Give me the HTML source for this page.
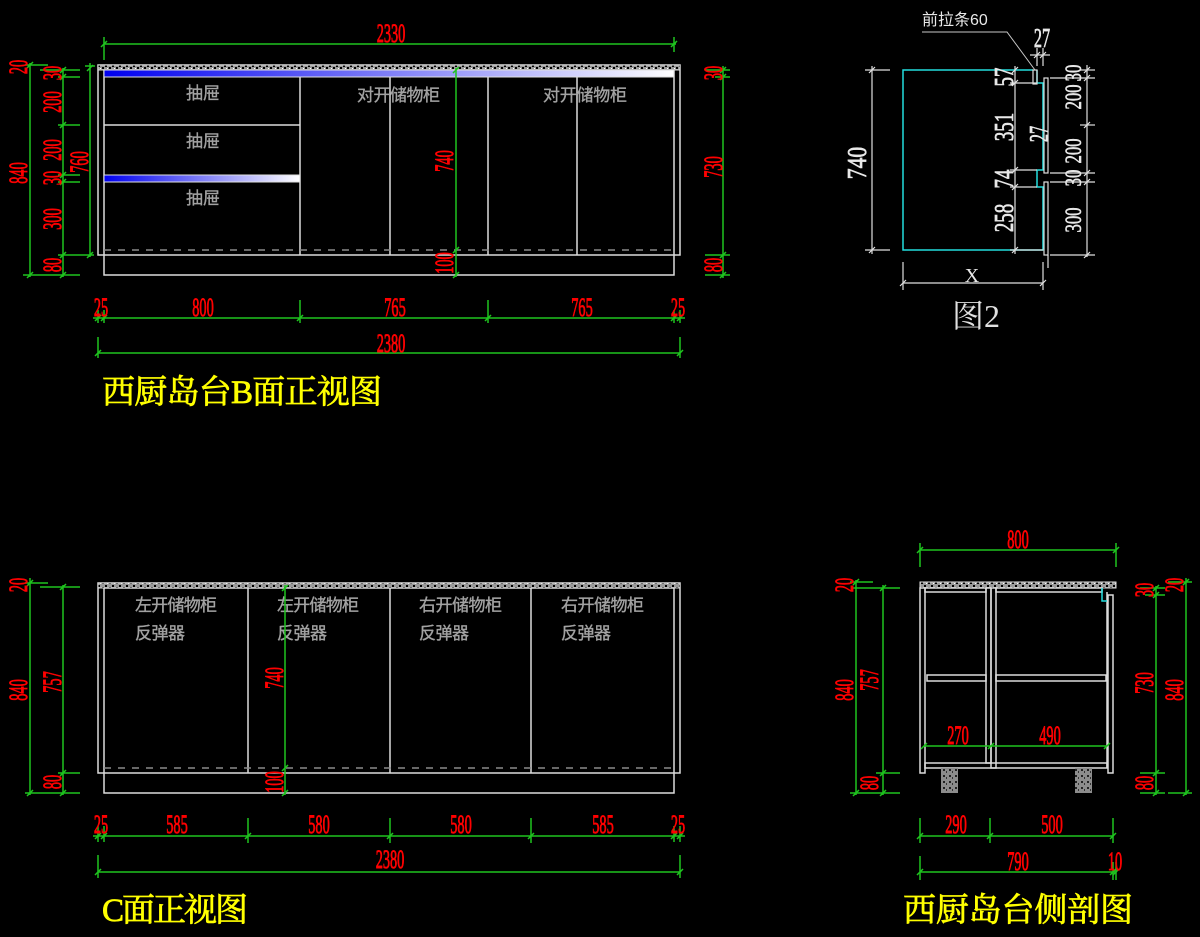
<!DOCTYPE html>
<html><head><meta charset="utf-8">
<style>
html,body{margin:0;padding:0;background:#000;}
svg{display:block}
.d{font-family:"Liberation Serif",serif;font-size:26px;fill:#ff0000;stroke:#ff0000;stroke-width:0.9px;text-anchor:middle}
.wt{font-family:"Liberation Serif",serif;font-size:27px;fill:#e8e8e8;stroke:#e8e8e8;stroke-width:0.7px;text-anchor:middle}
.cj{font-family:"Liberation Sans","Noto Sans CJK SC",sans-serif;font-size:17px;fill:#a2a2a2;stroke:#a2a2a2;stroke-width:0.35px}
.tt{font-family:"Liberation Serif","Noto Serif CJK SC",serif;font-size:33px;fill:#ffff00;stroke:#ffff00;stroke-width:0.7px}
</style></head><body>
<svg width="1200" height="937" viewBox="0 0 1200 937" xmlns="http://www.w3.org/2000/svg">
<defs>
<linearGradient id="bl" x1="0" y1="0" x2="1" y2="0">
<stop offset="0" stop-color="#0000f0"/><stop offset="1" stop-color="#ffffff"/>
</linearGradient>
<pattern id="ht" width="7" height="5" patternUnits="userSpaceOnUse">
<rect width="7" height="5" fill="#9a9a9a"/>
<rect x="0" y="0" width="2" height="2" fill="#000"/>
<rect x="4" y="2" width="2" height="2" fill="#000"/>
<rect x="2" y="3" width="1" height="1" fill="#fff"/>
</pattern>
<pattern id="lg" width="6" height="6" patternUnits="userSpaceOnUse">
<rect width="6" height="6" fill="#8c8c8c"/>
<rect x="1" y="1" width="2" height="2" fill="#222"/>
<rect x="4" y="3" width="1" height="2" fill="#333"/>
</pattern>
</defs>
<rect width="1200" height="937" fill="#000"/>

<!-- ============ B front view: cabinet ============ -->
<g fill="none" stroke="#dcdcdc" stroke-width="1.5">
<rect x="98" y="65" width="582" height="190"/>
<path d="M104 70 V275 H674 V70"/>
<line x1="300" y1="77" x2="300" y2="255"/>
<line x1="104" y1="125" x2="300" y2="125"/>
<line x1="390" y1="77" x2="390" y2="255"/>
<line x1="488" y1="77" x2="488" y2="255"/>
<line x1="577" y1="77" x2="577" y2="255"/>
</g>
<rect x="98" y="65" width="582" height="5" fill="url(#ht)" stroke="#dcdcdc" stroke-width="1"/>
<rect x="104" y="70" width="570" height="7" fill="url(#bl)" stroke="#e0e0e0" stroke-width="1"/>
<rect x="104" y="175" width="196" height="7" fill="url(#bl)" stroke="#e0e0e0" stroke-width="1"/>
<line x1="104" y1="250" x2="674" y2="250" stroke="#8a8a8a" stroke-width="1.5" stroke-dasharray="7 7"/>
<text class="cj" x="203" y="99" text-anchor="middle">抽屉</text>
<text class="cj" x="203" y="147" text-anchor="middle">抽屉</text>
<text class="cj" x="203" y="204" text-anchor="middle">抽屉</text>
<text class="cj" x="357" y="101" textLength="83">对开储物柜</text>
<text class="cj" x="543" y="101" textLength="84">对开储物柜</text>

<!-- B view green dims -->
<g fill="none" stroke="#1fc41f" stroke-width="1.5">
<line x1="104" y1="44" x2="676" y2="44"/>
<line x1="104" y1="37" x2="104" y2="60"/>
<line x1="674" y1="37" x2="674" y2="52"/>
<line x1="30" y1="63" x2="30" y2="277"/>
<line x1="25" y1="65" x2="48" y2="65"/>
<line x1="40" y1="70" x2="80" y2="70"/>
<line x1="58" y1="77" x2="80" y2="77"/>
<line x1="58" y1="125" x2="80" y2="125"/>
<line x1="58" y1="175" x2="80" y2="175"/>
<line x1="58" y1="182" x2="80" y2="182"/>
<line x1="58" y1="255" x2="94" y2="255"/>
<line x1="23" y1="275" x2="80" y2="275"/>
<line x1="63" y1="68" x2="63" y2="277"/>
<line x1="90" y1="63" x2="90" y2="257"/>
<line x1="85" y1="66" x2="95" y2="66"/>
<line x1="456" y1="68" x2="456" y2="277"/>
<line x1="723" y1="66" x2="723" y2="278"/>
<line x1="705" y1="70" x2="730" y2="70"/>
<line x1="715" y1="77" x2="730" y2="77"/>
<line x1="705" y1="255" x2="730" y2="255"/>
<line x1="705" y1="275" x2="730" y2="275"/>
<line x1="93" y1="318" x2="685" y2="318"/>
<line x1="98" y1="310" x2="98" y2="323"/>
<line x1="104" y1="310" x2="104" y2="323"/>
<line x1="300" y1="300" x2="300" y2="323"/>
<line x1="488" y1="300" x2="488" y2="323"/>
<line x1="674" y1="310" x2="674" y2="323"/>
<line x1="680" y1="310" x2="680" y2="323"/>
<line x1="98" y1="353" x2="680" y2="353"/>
<line x1="98" y1="337" x2="98" y2="358"/>
<line x1="680" y1="337" x2="680" y2="358"/>
<path d="M101 47l6-6M671 47l6-6M27 68l6-6M27 278l6-6M60 73l6-6M60 80l6-6M60 128l6-6M60 178l6-6M60 185l6-6M60 258l6-6M60 278l6-6M87 71l6-6M87 258l6-6M453 73l6-6M453 253l6-6M453 278l6-6M720 73l6-6M720 80l6-6M720 258l6-6M720 278l6-6M95 321l6-6M101 321l6-6M297 321l6-6M485 321l6-6M671 321l6-6M677 321l6-6M95 356l6-6M677 356l6-6"/>
</g>

<!-- B view red labels -->
<text class="d" transform="translate(391 42) scale(.55 1)">2330</text>
<text class="d" transform="translate(27 67) rotate(-90) scale(.55 1)">20</text>
<text class="d" transform="translate(27 173) rotate(-90) scale(.55 1)">840</text>
<text class="d" transform="translate(61 73) rotate(-90) scale(.55 1)">30</text>
<text class="d" transform="translate(61 102) rotate(-90) scale(.55 1)">200</text>
<text class="d" transform="translate(61 150) rotate(-90) scale(.55 1)">200</text>
<text class="d" transform="translate(61 178) rotate(-90) scale(.55 1)">30</text>
<text class="d" transform="translate(61 219) rotate(-90) scale(.55 1)">300</text>
<text class="d" transform="translate(61 265) rotate(-90) scale(.55 1)">80</text>
<text class="d" transform="translate(88 162) rotate(-90) scale(.55 1)">760</text>
<text class="d" transform="translate(453 161) rotate(-90) scale(.55 1)">740</text>
<text class="d" transform="translate(453 263) rotate(-90) scale(.55 1)">100</text>
<text class="d" transform="translate(722 73) rotate(-90) scale(.55 1)">30</text>
<text class="d" transform="translate(722 167) rotate(-90) scale(.55 1)">730</text>
<text class="d" transform="translate(722 265) rotate(-90) scale(.55 1)">80</text>
<text class="d" transform="translate(101 316) scale(.55 1)">25</text>
<text class="d" transform="translate(203 316) scale(.55 1)">800</text>
<text class="d" transform="translate(395 316) scale(.55 1)">765</text>
<text class="d" transform="translate(582 316) scale(.55 1)">765</text>
<text class="d" transform="translate(678 316) scale(.55 1)">25</text>
<text class="d" transform="translate(391 352) scale(.55 1)">2380</text>

<text class="tt" x="102" y="403" textLength="280">西厨岛台B面正视图</text>

<!-- ============ Figure 2 ============ -->
<path d="M1033 70 H903 V250 H1043 V187 H1037 V170 H1043 V83 H1037 V70" fill="none" stroke="#22dede" stroke-width="1.5"/>
<g fill="none" stroke="#e0e0e0" stroke-width="1.2">
<rect x="1033" y="70" width="4" height="14"/>
<rect x="1044" y="78" width="4" height="95"/>
<rect x="1044" y="182" width="4" height="73"/>
<polyline points="922,32 1007,32 1035,70" stroke="#c8c8c8" stroke-width="1"/>
<line x1="872" y1="66" x2="872" y2="254"/>
<line x1="865" y1="70" x2="890" y2="70"/>
<line x1="865" y1="250" x2="890" y2="250"/>
<line x1="1015" y1="66" x2="1015" y2="254"/>
<line x1="1010" y1="83" x2="1037" y2="83"/>
<line x1="1010" y1="170" x2="1037" y2="170"/>
<line x1="1010" y1="187" x2="1037" y2="187"/>
<line x1="1010" y1="250" x2="1043" y2="250"/>
<line x1="1087" y1="65" x2="1087" y2="257"/>
<line x1="1080" y1="70" x2="1095" y2="70"/>
<line x1="1050" y1="78" x2="1095" y2="78"/>
<line x1="1080" y1="125" x2="1095" y2="125"/>
<line x1="1050" y1="173" x2="1095" y2="173"/>
<line x1="1050" y1="182" x2="1095" y2="182"/>
<line x1="1050" y1="255" x2="1095" y2="255"/>
<line x1="1037" y1="48" x2="1037" y2="66"/>
<line x1="1043" y1="48" x2="1043" y2="66"/>
<line x1="1030" y1="55" x2="1050" y2="55"/>
<line x1="903" y1="283" x2="1043" y2="283"/>
<line x1="903" y1="262" x2="903" y2="290"/>
<line x1="1043" y1="262" x2="1043" y2="290"/>
<line x1="1048" y1="255" x2="1048" y2="268"/>
<path d="M869 73l6-6M869 253l6-6M1012 73l6-6M1012 86l6-6M1012 173l6-6M1012 190l6-6M1012 253l6-6M1084 73l6-6M1084 81l6-6M1084 128l6-6M1084 176l6-6M1084 185l6-6M1084 258l6-6M900 286l6-6M1040 286l6-6M1034 58l6-6M1040 58l6-6"/>
</g>
<text class="wt" transform="translate(866 163) rotate(-90) scale(.8 1)">740</text>
<text class="wt" transform="translate(1013 77) rotate(-90) scale(.7 1)">57</text>
<text class="wt" transform="translate(1013 127) rotate(-90) scale(.7 1)">351</text>
<text class="wt" transform="translate(1013 179) rotate(-90) scale(.7 1)">74</text>
<text class="wt" transform="translate(1013 218) rotate(-90) scale(.7 1)">258</text>
<text class="wt" transform="translate(1042 47) scale(.6 1)">27</text>
<text class="wt" transform="translate(1048 134) rotate(-90) scale(.6 1)">27</text>
<text class="wt" transform="translate(1081 73) rotate(-90) scale(.62 .85)">30</text>
<text class="wt" transform="translate(1081 97) rotate(-90) scale(.62 .85)">200</text>
<text class="wt" transform="translate(1081 151) rotate(-90) scale(.62 .85)">200</text>
<text class="wt" transform="translate(1081 178) rotate(-90) scale(.62 .85)">30</text>
<text class="wt" transform="translate(1081 220) rotate(-90) scale(.62 .85)">300</text>
<text x="972" y="282" font-family="Liberation Serif, serif" font-size="20" fill="#e8e8e8" text-anchor="middle">X</text>
<text x="922" y="25" font-family="Liberation Sans, Noto Sans CJK SC, sans-serif" font-size="16" fill="#e8e8e8">前拉条60</text>
<text x="952" y="327" font-family="Liberation Serif, Noto Serif CJK SC, serif" font-size="32" fill="#e0e0e0">图2</text>

<!-- ============ C front view ============ -->
<g fill="none" stroke="#dcdcdc" stroke-width="1.5">
<rect x="98" y="583" width="582" height="190"/>
<path d="M104 583 V793 H674 V583"/>
<line x1="104" y1="588" x2="674" y2="588"/>
<line x1="248" y1="588" x2="248" y2="773"/>
<line x1="390" y1="588" x2="390" y2="773"/>
<line x1="531" y1="588" x2="531" y2="773"/>
</g>
<rect x="98" y="583" width="582" height="5" fill="url(#ht)" stroke="#dcdcdc" stroke-width="1"/>
<line x1="104" y1="768" x2="674" y2="768" stroke="#8a8a8a" stroke-width="1.5" stroke-dasharray="7 7"/>
<text class="cj" x="135" y="611" textLength="82">左开储物柜</text>
<text class="cj" x="135" y="639" textLength="50">反弹器</text>
<text class="cj" x="277" y="611" textLength="82">左开储物柜</text>
<text class="cj" x="277" y="639" textLength="50">反弹器</text>
<text class="cj" x="419" y="611" textLength="83">右开储物柜</text>
<text class="cj" x="419" y="639" textLength="50">反弹器</text>
<text class="cj" x="561" y="611" textLength="83">右开储物柜</text>
<text class="cj" x="561" y="639" textLength="50">反弹器</text>

<g fill="none" stroke="#1fc41f" stroke-width="1.5">
<line x1="30" y1="578" x2="30" y2="795"/>
<line x1="25" y1="583" x2="48" y2="583"/>
<line x1="40" y1="587" x2="80" y2="587"/>
<line x1="58" y1="773" x2="80" y2="773"/>
<line x1="25" y1="793" x2="80" y2="793"/>
<line x1="63" y1="585" x2="63" y2="795"/>
<line x1="285" y1="585" x2="285" y2="795"/>
<line x1="93" y1="836" x2="685" y2="836"/>
<line x1="98" y1="826" x2="98" y2="842"/>
<line x1="104" y1="826" x2="104" y2="842"/>
<line x1="248" y1="818" x2="248" y2="843"/>
<line x1="390" y1="818" x2="390" y2="843"/>
<line x1="531" y1="818" x2="531" y2="843"/>
<line x1="674" y1="826" x2="674" y2="842"/>
<line x1="680" y1="826" x2="680" y2="842"/>
<line x1="98" y1="872" x2="680" y2="872"/>
<line x1="98" y1="855" x2="98" y2="878"/>
<line x1="680" y1="855" x2="680" y2="878"/>
<path d="M27 586l6-6M27 796l6-6M60 590l6-6M60 776l6-6M60 796l6-6M282 591l6-6M282 771l6-6M282 796l6-6M95 839l6-6M101 839l6-6M245 839l6-6M387 839l6-6M528 839l6-6M671 839l6-6M677 839l6-6M95 875l6-6M677 875l6-6"/>
</g>
<text class="d" transform="translate(27 585) rotate(-90) scale(.55 1)">20</text>
<text class="d" transform="translate(27 690) rotate(-90) scale(.55 1)">840</text>
<text class="d" transform="translate(61 682) rotate(-90) scale(.55 1)">757</text>
<text class="d" transform="translate(61 782) rotate(-90) scale(.55 1)">80</text>
<text class="d" transform="translate(283 678) rotate(-90) scale(.55 1)">740</text>
<text class="d" transform="translate(283 782) rotate(-90) scale(.55 1)">100</text>
<text class="d" transform="translate(101 833) scale(.55 1)">25</text>
<text class="d" transform="translate(177 833) scale(.55 1)">585</text>
<text class="d" transform="translate(319 833) scale(.55 1)">580</text>
<text class="d" transform="translate(461 833) scale(.55 1)">580</text>
<text class="d" transform="translate(603 833) scale(.55 1)">585</text>
<text class="d" transform="translate(678 833) scale(.55 1)">25</text>
<text class="d" transform="translate(390 868) scale(.55 1)">2380</text>

<text class="tt" x="102" y="921" textLength="146">C面正视图</text>

<!-- ============ Side section ============ -->
<rect x="920" y="582" width="196" height="6" fill="url(#ht)" stroke="#dcdcdc" stroke-width="1"/>
<g fill="none" stroke="#dcdcdc" stroke-width="1.5">
<rect x="920" y="588" width="5" height="185"/>
<rect x="925" y="588" width="61" height="4"/>
<rect x="996" y="588" width="106" height="4"/>
<rect x="986" y="588" width="5" height="175"/>
<rect x="991" y="588" width="5" height="180"/>
<rect x="927" y="675" width="59" height="6"/>
<rect x="996" y="675" width="110" height="6"/>
<rect x="925" y="763" width="182" height="5"/>
<line x1="1107" y1="592" x2="1107" y2="768"/>
<rect x="1108" y="595" width="5" height="178"/>
</g>
<path d="M1102 588 V601 H1107" fill="none" stroke="#22dede" stroke-width="1.5"/>
<rect x="941" y="768" width="17" height="25" fill="url(#lg)"/>
<rect x="1075" y="768" width="17" height="25" fill="url(#lg)"/>

<g fill="none" stroke="#1fc41f" stroke-width="1.5">
<line x1="920" y1="550" x2="1116" y2="550"/>
<line x1="920" y1="543" x2="920" y2="567"/>
<line x1="1116" y1="543" x2="1116" y2="567"/>
<line x1="856" y1="580" x2="856" y2="795"/>
<line x1="850" y1="582" x2="873" y2="582"/>
<line x1="853" y1="588" x2="900" y2="588"/>
<line x1="876" y1="773" x2="900" y2="773"/>
<line x1="850" y1="793" x2="900" y2="793"/>
<line x1="883" y1="585" x2="883" y2="795"/>
<line x1="1156" y1="586" x2="1156" y2="795"/>
<line x1="1140" y1="588" x2="1165" y2="588"/>
<line x1="1145" y1="595" x2="1165" y2="595"/>
<line x1="1140" y1="773" x2="1165" y2="773"/>
<line x1="1140" y1="793" x2="1165" y2="793"/>
<line x1="1186" y1="578" x2="1186" y2="795"/>
<line x1="1168" y1="582" x2="1192" y2="582"/>
<line x1="1168" y1="793" x2="1192" y2="793"/>
<line x1="924" y1="746" x2="1107" y2="746"/>
<line x1="920" y1="836" x2="1113" y2="836"/>
<line x1="920" y1="818" x2="920" y2="843"/>
<line x1="990" y1="818" x2="990" y2="843"/>
<line x1="1113" y1="818" x2="1113" y2="843"/>
<line x1="920" y1="872" x2="1116" y2="872"/>
<line x1="920" y1="856" x2="920" y2="880"/>
<line x1="1113" y1="862" x2="1113" y2="880"/>
<line x1="1116" y1="862" x2="1116" y2="880"/>
<path d="M917 553l6-6M1113 553l6-6M853 585l6-6M853 796l6-6M880 591l6-6M880 776l6-6M880 796l6-6M1153 591l6-6M1153 598l6-6M1153 776l6-6M1153 796l6-6M1183 585l6-6M1183 796l6-6M921 749l6-6M988 749l6-6M1104 749l6-6M917 839l6-6M987 839l6-6M1110 839l6-6M917 875l6-6M1110 875l6-6M1113 875l6-6"/>
</g>
<text class="d" transform="translate(1018 548) scale(.55 1)">800</text>
<text class="d" transform="translate(958 744) scale(.55 1)">270</text>
<text class="d" transform="translate(1050 744) scale(.55 1)">490</text>
<text class="d" transform="translate(853 585) rotate(-90) scale(.55 1)">20</text>
<text class="d" transform="translate(853 690) rotate(-90) scale(.55 1)">840</text>
<text class="d" transform="translate(878 680) rotate(-90) scale(.55 1)">757</text>
<text class="d" transform="translate(878 783) rotate(-90) scale(.55 1)">80</text>
<text class="d" transform="translate(1153 590) rotate(-90) scale(.55 1)">30</text>
<text class="d" transform="translate(1153 683) rotate(-90) scale(.55 1)">730</text>
<text class="d" transform="translate(1153 783) rotate(-90) scale(.55 1)">80</text>
<text class="d" transform="translate(1183 585) rotate(-90) scale(.55 1)">20</text>
<text class="d" transform="translate(1183 690) rotate(-90) scale(.55 1)">840</text>
<text class="d" transform="translate(956 833) scale(.55 1)">290</text>
<text class="d" transform="translate(1052 833) scale(.55 1)">500</text>
<text class="d" transform="translate(1018 870) scale(.55 1)">790</text>
<text class="d" transform="translate(1115 870) scale(.55 1)">10</text>

<text class="tt" x="903" y="921" textLength="230">西厨岛台侧剖图</text>
</svg>
</body></html>
